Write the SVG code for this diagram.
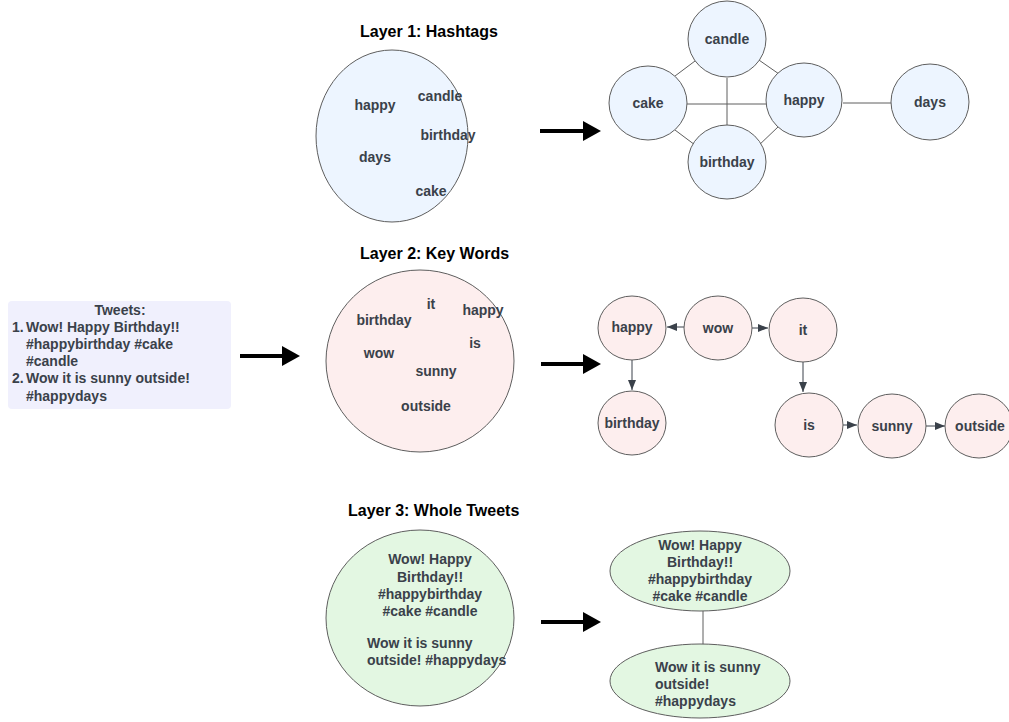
<svg xmlns="http://www.w3.org/2000/svg" width="1009" height="722" viewBox="0 0 1009 722">
<defs>
<style>
.title{font-family:"Liberation Sans",Arial,sans-serif;font-weight:bold;font-size:16px;fill:#000;}
.t{font-family:"Liberation Sans",Arial,sans-serif;font-weight:bold;font-size:14px;fill:#3a414a;}
.c{text-anchor:middle;}
.blue{fill:#edf5ff;stroke:#5e5e5e;stroke-width:1;}
.pink{fill:#fdeeee;stroke:#5e5e5e;stroke-width:1;}
.green{fill:#e3f7e2;stroke:#5e5e5e;stroke-width:1;}
.edge{stroke:#5e5e5e;stroke-width:1;fill:none;}
.dir{stroke:#3a414a;stroke-width:1;fill:none;marker-end:url(#sm);}
.big{stroke:#000;stroke-width:4;fill:none;}
</style>
<marker id="sm" viewBox="0 0 10 10" refX="10" refY="5" markerWidth="10" markerHeight="10" markerUnits="userSpaceOnUse" orient="auto">
<path d="M0,1 L10,5 L0,9 Z" fill="#3a414a"/>
</marker>
</defs>
<rect width="1009" height="722" fill="#fff"/>

<g id="titles">
<text class="title" x="360" y="37">Layer 1: Hashtags</text>
<text class="title" x="360" y="259">Layer 2: Key Words</text>
<text class="title" x="348" y="516">Layer 3: Whole Tweets</text>
</g>

<g id="connectors">
<line class="edge" x1="675" y1="76" x2="699" y2="58"/>
<line class="edge" x1="756" y1="58" x2="779" y2="74"/>
<line class="edge" x1="675" y1="130" x2="699" y2="148"/>
<line class="edge" x1="756" y1="148" x2="779" y2="126"/>
<line class="edge" x1="687" y1="104" x2="766" y2="104"/>
<line class="edge" x1="727" y1="78" x2="727" y2="126"/>
<line class="edge" x1="843" y1="103" x2="891" y2="103"/>
<line class="dir" x1="684" y1="327" x2="667" y2="327"/>
<line class="dir" x1="752" y1="328" x2="768" y2="328"/>
<line class="dir" x1="632" y1="360" x2="632" y2="390"/>
<line class="dir" x1="803" y1="362" x2="803" y2="392"/>
<line class="dir" x1="843" y1="425" x2="857" y2="425"/>
<line class="dir" x1="926" y1="426" x2="945" y2="426"/>
<line class="edge" x1="703" y1="611" x2="703" y2="645"/>
<g id="big-arrows">
<line class="big" x1="540" y1="131" x2="584" y2="131"/><path d="M583,121 L601,131 L583,141 Z" fill="#000"/>
<line class="big" x1="240" y1="356" x2="283" y2="356"/><path d="M282,346 L300,356 L282,366 Z" fill="#000"/>
<line class="big" x1="541" y1="364" x2="584" y2="364"/><path d="M583,354 L601,364 L583,374 Z" fill="#000"/>
<line class="big" x1="541" y1="622" x2="584" y2="622"/><path d="M583,612 L601,622 L583,632 Z" fill="#000"/>
</g>
</g>

<g id="hashtag-set">
<ellipse class="blue" cx="392" cy="136" rx="76" ry="86"/>
<text class="t c" x="375" y="110">happy</text>
<text class="t c" x="440" y="101">candle</text>
<text class="t c" x="448" y="140">birthday</text>
<text class="t c" x="375" y="162">days</text>
<text class="t c" x="431" y="196">cake</text>
</g>
<g id="h-candle"><ellipse class="blue" cx="727" cy="39" rx="39" ry="38"/><text class="t c" x="727" y="44">candle</text></g>
<g id="h-cake"><ellipse class="blue" cx="648" cy="103" rx="39" ry="37"/><text class="t c" x="648" y="108">cake</text></g>
<g id="h-happy"><ellipse class="blue" cx="804" cy="100" rx="38" ry="37"/><text class="t c" x="804" y="105">happy</text></g>
<g id="h-birthday"><ellipse class="blue" cx="727" cy="162" rx="39" ry="37"/><text class="t c" x="727" y="167">birthday</text></g>
<g id="h-days"><ellipse class="blue" cx="930" cy="102" rx="39" ry="38"/><text class="t c" x="930" y="107">days</text></g>

<g id="tweets">
<rect x="8" y="301" width="223" height="108" rx="4" fill="#f0f0fd"/>
<text class="t c" x="120" y="315">Tweets:</text>
<text class="t" x="12" y="332">1.</text><text class="t" x="26" y="332">Wow! Happy Birthday!!</text>
<text class="t" x="26" y="349">#happybirthday #cake</text>
<text class="t" x="26" y="366">#candle</text>
<text class="t" x="12" y="383">2.</text><text class="t" x="26" y="383">Wow it is sunny outside!</text>
<text class="t" x="26" y="401">#happydays</text>
</g>

<g id="keyword-set">
<ellipse class="pink" cx="420" cy="361" rx="94" ry="91"/>
<text class="t c" x="431" y="309">it</text>
<text class="t c" x="483" y="315">happy</text>
<text class="t c" x="384" y="325">birthday</text>
<text class="t c" x="475" y="348">is</text>
<text class="t c" x="379" y="358">wow</text>
<text class="t c" x="436" y="376">sunny</text>
<text class="t c" x="426" y="411">outside</text>
</g>
<g id="k-happy"><ellipse class="pink" cx="632" cy="328" rx="34" ry="32"/><text class="t c" x="632" y="332">happy</text></g>
<g id="k-wow"><ellipse class="pink" cx="718" cy="328" rx="34" ry="32"/><text class="t c" x="718" y="333">wow</text></g>
<g id="k-it"><ellipse class="pink" cx="803" cy="330" rx="34" ry="32"/><text class="t c" x="803" y="335">it</text></g>
<g id="k-birthday"><ellipse class="pink" cx="632" cy="423" rx="34" ry="32"/><text class="t c" x="632" y="428">birthday</text></g>
<g id="k-is"><ellipse class="pink" cx="809" cy="425" rx="34" ry="32"/><text class="t c" x="809" y="430">is</text></g>
<g id="k-sunny"><ellipse class="pink" cx="892" cy="426" rx="34" ry="32"/><text class="t c" x="892" y="431">sunny</text></g>
<g id="k-outside"><ellipse class="pink" cx="979" cy="426" rx="34" ry="32"/><text class="t c" x="980" y="431">outside</text></g>

<g id="tweet-set">
<ellipse class="green" cx="420" cy="618" rx="94" ry="88"/>
<text class="t c" x="430" y="564">Wow! Happy</text>
<text class="t c" x="430" y="582">Birthday!!</text>
<text class="t c" x="430" y="599">#happybirthday</text>
<text class="t c" x="430" y="616">#cake #candle</text>
<text class="t" x="367" y="648">Wow it is sunny</text>
<text class="t" x="367" y="665">outside! #happydays</text>
</g>
<g id="tw-1">
<ellipse class="green" cx="700" cy="571" rx="90" ry="40"/>
<text class="t c" x="700" y="550">Wow! Happy</text>
<text class="t c" x="700" y="567">Birthday!!</text>
<text class="t c" x="700" y="584">#happybirthday</text>
<text class="t c" x="700" y="601">#cake #candle</text>
</g>
<g id="tw-2">
<ellipse class="green" cx="700" cy="681" rx="90" ry="37"/>
<text class="t" x="655" y="672">Wow it is sunny</text>
<text class="t" x="655" y="689">outside!</text>
<text class="t" x="655" y="706">#happydays</text>
</g>
</svg>
